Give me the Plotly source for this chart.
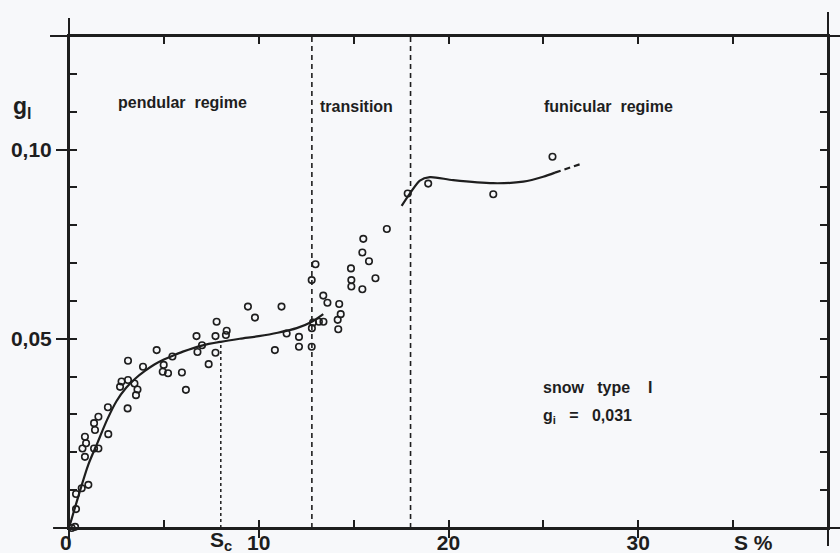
import numpy as np
import plotly.graph_objects as go

# ---------------- data ----------------
# measured points: saturation S (%) and g_l
S_obs = [0.14, 0.32, 0.37, 0.37, 0.67, 1.02, 0.71, 0.84, 0.90, 0.84,
         1.32, 1.55, 1.32, 1.37, 1.55, 2.07, 2.05, 2.69, 2.77, 3.11,
         3.45, 3.61, 3.53, 3.09, 3.11, 3.90, 4.62, 4.99, 5.22, 4.94,
         5.45, 5.95, 6.16, 6.72, 6.77, 7.01, 7.36, 7.72, 7.72, 7.78,
         8.27, 8.31, 9.43, 9.80, 10.85, 11.20, 11.47, 12.12, 12.12, 12.79,
         12.80, 12.86, 13.17, 13.41, 13.40, 13.62, 12.79, 12.99, 14.24, 14.32,
         14.16, 14.19, 14.86, 14.88, 14.88, 15.46, 15.46, 15.51, 15.81, 16.15,
         16.75, 17.85, 18.93, 22.36, 25.48]
g_obs = [0.0000, 0.0003, 0.0050, 0.0090, 0.0105, 0.0114, 0.0210, 0.0241, 0.0224, 0.0188,
         0.0210, 0.0210, 0.0277, 0.0259, 0.0294, 0.0248, 0.0319, 0.0373, 0.0387, 0.0391,
         0.0382, 0.0366, 0.0351, 0.0316, 0.0442, 0.0426, 0.0470, 0.0431, 0.0409, 0.0413,
         0.0453, 0.0411, 0.0365, 0.0507, 0.0465, 0.0483, 0.0433, 0.0463, 0.0507, 0.0545,
         0.0510, 0.0521, 0.0585, 0.0556, 0.0470, 0.0585, 0.0514, 0.0505, 0.0479, 0.0479,
         0.0528, 0.0543, 0.0545, 0.0545, 0.0614, 0.0595, 0.0655, 0.0697, 0.0592, 0.0565,
         0.0550, 0.0525, 0.0686, 0.0655, 0.0638, 0.0631, 0.0728, 0.0764, 0.0705, 0.0660,
         0.0790, 0.0884, 0.0910, 0.0882, 0.0981]

# fitted curve, pendular regime + transition
S_fit1 = [0, 0.5, 1.0, 1.5, 2.0, 2.5, 3.0, 3.5, 4.0, 4.5, 5.0, 5.5, 6.0,
          7.0, 8.0, 9.0, 10.0, 11.0, 12.0, 12.8, 13.4]
g_fit1 = [0, 0.0085, 0.0165, 0.0225, 0.0285, 0.0335, 0.0370, 0.0395, 0.0415,
          0.0432, 0.0445, 0.0456, 0.0466, 0.0482, 0.0492, 0.0500, 0.0507,
          0.0516, 0.0528, 0.0545, 0.0565]

# fitted curve, funicular regime (solid) and its dashed extrapolation
S_fit2 = [17.53, 17.97, 18.49, 19.02, 20.25, 22.36, 23.94, 24.99, 25.61]
g_fit2 = [0.0851, 0.0884, 0.0918, 0.0927, 0.0919, 0.0911, 0.0915, 0.0928, 0.0939]
S_ext = [25.61, 26.13, 27.10]
g_ext = [0.0939, 0.0948, 0.0964]

# regime boundaries and critical saturation
boundaries = [12.8, 18.0]
S_c = 8.0

# axis ticks
x_major = [10, 20, 30]
x_major_text = ["10", "20", "30"]
x_minor = [5, 10, 15, 20, 25, 30, 35]
y_major = [0.05, 0.10]
y_major_text = ["0,05", "0,10"]
y_minor = [0.01, 0.02, 0.03, 0.04, 0.05, 0.06, 0.07, 0.08, 0.09, 0.10, 0.11, 0.12]

X_RANGE = [0, 40]
Y_RANGE = [0, 0.13]

# ---------------- figure ----------------
INK = "#1e1e1e"
BG = "#f7f8fa"
FONT = "Liberation Sans, Arial, Helvetica, sans-serif"
NB = "\u00a0"

fig = go.Figure()

fig.add_trace(go.Scatter(x=S_fit1, y=g_fit1, mode="lines",
                         line=dict(color=INK, width=2.2, shape="spline", smoothing=0.8),
                         hoverinfo="skip", showlegend=False))
fig.add_trace(go.Scatter(x=S_fit2, y=g_fit2, mode="lines",
                         line=dict(color=INK, width=2.2, shape="spline", smoothing=0.8),
                         hoverinfo="skip", showlegend=False))
fig.add_trace(go.Scatter(x=S_ext, y=g_ext, mode="lines",
                         line=dict(color=INK, width=2.2, dash="6px,4px"),
                         hoverinfo="skip", showlegend=False))
fig.add_trace(go.Scatter(x=S_obs, y=g_obs, mode="markers", cliponaxis=False,
                         marker=dict(symbol="circle-open", size=6.5, color=INK,
                                     line=dict(width=1.6, color=INK)),
                         showlegend=False))
# empty trace to activate the overlay axes carrying the labelled ticks
fig.add_trace(go.Scatter(x=[], y=[], xaxis="x2", yaxis="y2", showlegend=False,
                         hoverinfo="skip"))

# regime boundaries (dashed) and S_c (dotted)
for b in boundaries:
    fig.add_shape(type="line", xref="x", yref="paper", x0=b, x1=b, y0=0, y1=1,
                  line=dict(color=INK, width=1.6, dash="5px,4px"))
g_at_Sc = float(np.interp(S_c, S_fit1, g_fit1))
fig.add_shape(type="line", xref="x", yref="y", x0=S_c, x1=S_c, y0=0, y1=g_at_Sc,
              line=dict(color=INK, width=1.5, dash="dot"))

# frame lines extending past the corners
frame = [
    (0, 0, -0.0386, 1.0366),          # left
    (1, 1, -0.0366, 1.0488),          # right
    (-0.025, 1.0158, 1, 1),           # top
    (-0.021, 1.0158, 0, 0),           # bottom
]
for x0, x1, y0, y1 in frame:
    fig.add_shape(type="line", xref="paper", yref="paper", x0=x0, x1=x1, y0=y0, y1=y1,
                  line=dict(color=INK, width=2))

txt = dict(family=FONT, size=16, color=INK, weight="bold")
big = dict(family=FONT, size=21, color=INK, weight="bold")
ann = [
    dict(x=5.98, y=0.1123, text="pendular" + NB * 2 + "regime", font=txt),
    dict(x=15.16, y=0.1115, text="transition", font=txt),
    dict(x=28.42, y=0.1115, text="funicular" + NB * 2 + "regime", font=txt),
    dict(x=24.9, y=0.0370, text="snow" + NB * 3 + "type" + NB * 4 + "I", font=txt,
         xanchor="left"),
    dict(x=24.9, y=0.0294, text="g<sub>i</sub>" + NB * 3 + "=" + NB * 3 + "0,031",
         font=txt, xanchor="left"),
]
for a in ann:
    a.setdefault("xanchor", "center")
    fig.add_annotation(xref="x", yref="y", showarrow=False, yanchor="middle", **a)

# axis labels and special x labels
fig.add_annotation(xref="paper", yref="paper", x=-0.077, y=0.855, xanchor="left",
                   yanchor="middle", text="g<sub>l</sub>", showarrow=False,
                   font=dict(family=FONT, size=23, color=INK, weight="bold"))
fig.add_annotation(xref="paper", yref="paper", x=-0.0145, y=-0.029, text="0",
                   showarrow=False, font=big, yanchor="middle")
fig.add_annotation(xref="x", yref="paper", x=S_c, y=-0.027, text="S<sub>c</sub>",
                   showarrow=False, font=big, yanchor="middle")
fig.add_annotation(xref="x", yref="paper", x=36.07, y=-0.029, text="S" + NB + "%",
                   showarrow=False, font=big, yanchor="middle")

fig.update_layout(
    width=840, height=553,
    margin=dict(l=69, r=12, t=36, b=25, autoexpand=False),
    paper_bgcolor=BG, plot_bgcolor=BG,
    xaxis=dict(range=X_RANGE, showgrid=False, zeroline=False, showline=True,
               linecolor=INK, linewidth=2, mirror="ticks", automargin=False,
               ticks="inside", tickvals=x_minor, ticklen=8, tickwidth=2,
               tickcolor=INK, showticklabels=False),
    yaxis=dict(range=Y_RANGE, showgrid=False, zeroline=False, showline=True,
               linecolor=INK, linewidth=2, mirror="ticks", automargin=False,
               ticks="inside", tickvals=y_minor, ticklen=8, tickwidth=2,
               tickcolor=INK, showticklabels=False),
    xaxis2=dict(range=X_RANGE, overlaying="x", anchor="y2", side="bottom",
                showgrid=False, zeroline=False, showline=False, automargin=False,
                ticks="outside", tickvals=x_major, ticktext=x_major_text,
                ticklen=9, tickwidth=2, tickcolor=INK, ticklabelstandoff=-13,
                tickfont=big),
    yaxis2=dict(range=Y_RANGE, overlaying="y", anchor="x2", side="left",
                showgrid=False, zeroline=False, showline=False, automargin=False,
                ticks="outside", tickvals=y_major, ticktext=y_major_text,
                ticklen=12, tickwidth=2, tickcolor=INK,
                tickfont=big),
)

fig.write_html("out.html")
